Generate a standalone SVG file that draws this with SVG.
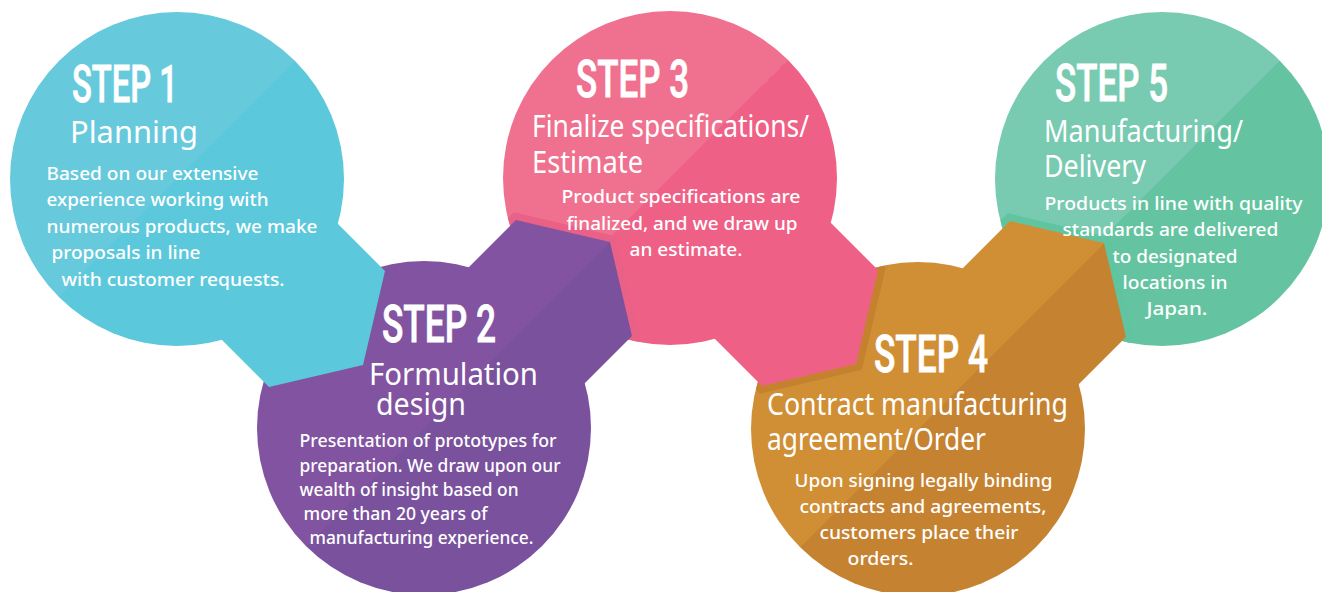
<svg xmlns="http://www.w3.org/2000/svg" width="1322" height="592" viewBox="0 0 1322 592">
  <style>
    .step { font-family: Roboto, "Liberation Sans", Arial, sans-serif; font-weight: 500; font-size: 51px; fill: #fff; stroke: #fff; stroke-width: 0.8; }
    .head { font-family: "Noto Sans", "Liberation Sans", sans-serif; font-size: 30px; fill: #fff; }
    .body { font-family: "Noto Sans", "Liberation Sans", sans-serif; font-weight: 500; font-size: 18.5px; fill: #fff; }
    .band { fill: none; stroke-width: 14; stroke-linejoin: miter; }
  </style>
  <defs>
    <!-- two-tone fills split along the 45° diagonal through each centre -->
    <linearGradient id="g1" gradientUnits="userSpaceOnUse" x1="77" y1="79" x2="277" y2="279">
      <stop offset="0.5" stop-color="#66C9DC"/><stop offset="0.5" stop-color="#5BC8DC"/>
    </linearGradient>
    <linearGradient id="g2" gradientUnits="userSpaceOnUse" x1="324" y1="328" x2="524" y2="528">
      <stop offset="0.5" stop-color="#8153A0"/><stop offset="0.5" stop-color="#79519D"/>
    </linearGradient>
    <linearGradient id="g3" gradientUnits="userSpaceOnUse" x1="570" y1="78" x2="770" y2="278">
      <stop offset="0.5" stop-color="#F0718F"/><stop offset="0.5" stop-color="#EF6086"/>
    </linearGradient>
    <linearGradient id="g4" gradientUnits="userSpaceOnUse" x1="818" y1="329" x2="1018" y2="529">
      <stop offset="0.5" stop-color="#D08E35"/><stop offset="0.5" stop-color="#C58231"/>
    </linearGradient>
    <linearGradient id="g5" gradientUnits="userSpaceOnUse" x1="1062" y1="79" x2="1262" y2="279">
      <stop offset="0.5" stop-color="#78CAB1"/><stop offset="0.5" stop-color="#64C4A1"/>
    </linearGradient>
    <clipPath id="clip3"><circle cx="670" cy="178" r="167"/></clipPath>
    <clipPath id="clip4"><circle cx="918" cy="429" r="167"/></clipPath>
    <clipPath id="clip5"><circle cx="1162" cy="179" r="167"/></clipPath>
  </defs>

  <!-- step circles -->
  <g id="step-5" class="node"><circle cx="1162" cy="179" r="167" fill="url(#g5)"/></g>
  <g id="step-4" class="node"><circle cx="918" cy="429" r="167" fill="url(#g4)"/></g>
  <g id="step-3" class="node"><circle cx="670" cy="178" r="167" fill="url(#g3)"/></g>
  <g id="step-2" class="node"><circle cx="424" cy="428" r="167" fill="url(#g2)"/></g>
  <g id="step-1" class="node"><circle cx="177" cy="179" r="167" fill="url(#g1)"/></g>

  <!-- pointer tabs leading from each step into the next -->
  <g id="connectors">
    <polyline class="band" clip-path="url(#clip5)" stroke="#5FC49F" points="1068,395 1126,337 1104,243 1010,221 952,279"/>
    <polygon fill="url(#g4)" points="918,429 1068,395 1126,337 1104,243 1010,221 952,279"/>
    <polyline class="band" clip-path="url(#clip4)" stroke="#C4822F" points="820,212 878,270 856,364 762,386 704,328"/>
    <polygon fill="url(#g3)" points="670,178 820,212 878,270 856,364 762,386 704,328"/>
    <polyline class="band" clip-path="url(#clip3)" stroke="#EA6187" points="574,394 632,336 610,242 516,220 458,278"/>
    <polygon fill="url(#g2)" points="424,428 574,394 632,336 610,242 516,220 458,278"/>
    <polygon fill="url(#g1)" points="177,179 327,213 385,271 363,365 269,387 211,329"/>
  </g>

  <!-- labels -->
  <g id="labels">
    <g id="step-1-label">
      <text class="step" x="72" y="102" textLength="106" lengthAdjust="spacingAndGlyphs">STEP 1</text>
      <text class="head" x="70" y="143" textLength="128" lengthAdjust="spacingAndGlyphs">Planning</text>
      <text class="body" x="46.5" y="180" textLength="212" lengthAdjust="spacingAndGlyphs">Based on our extensive</text>
      <text class="body" x="46.5" y="206" textLength="222" lengthAdjust="spacingAndGlyphs">experience working with</text>
      <text class="body" x="46.5" y="233" textLength="271" lengthAdjust="spacingAndGlyphs">numerous products, we make</text>
      <text class="body" x="51.5" y="259" textLength="149" lengthAdjust="spacingAndGlyphs">proposals in line</text>
      <text class="body" x="61.5" y="286" textLength="223" lengthAdjust="spacingAndGlyphs">with customer requests.</text>
    </g>
    <g id="step-2-label">
      <text class="step" x="382" y="342" textLength="114" lengthAdjust="spacingAndGlyphs">STEP 2</text>
      <text class="head" x="369" y="385" textLength="169" lengthAdjust="spacingAndGlyphs">Formulation</text>
      <text class="head" x="376" y="415" textLength="90" lengthAdjust="spacingAndGlyphs">design</text>
      <text class="body" x="299.5" y="447" textLength="257" lengthAdjust="spacingAndGlyphs">Presentation of prototypes for</text>
      <text class="body" x="299.5" y="472" textLength="261" lengthAdjust="spacingAndGlyphs">preparation. We draw upon our</text>
      <text class="body" x="299.5" y="496" textLength="219" lengthAdjust="spacingAndGlyphs">wealth of insight based on</text>
      <text class="body" x="303.5" y="520" textLength="184" lengthAdjust="spacingAndGlyphs">more than 20 years of</text>
      <text class="body" x="309.5" y="544" textLength="224" lengthAdjust="spacingAndGlyphs">manufacturing experience.</text>
    </g>
    <g id="step-3-label">
      <text class="step" x="576" y="97" textLength="113" lengthAdjust="spacingAndGlyphs">STEP 3</text>
      <text class="head" x="532" y="137" textLength="277" lengthAdjust="spacingAndGlyphs">Finalize specifications/</text>
      <text class="head" x="532" y="173" textLength="111" lengthAdjust="spacingAndGlyphs">Estimate</text>
      <text class="body" x="561.5" y="203" textLength="239" lengthAdjust="spacingAndGlyphs">Product specifications are</text>
      <text class="body" x="566.5" y="230" textLength="231" lengthAdjust="spacingAndGlyphs">finalized, and we draw up</text>
      <text class="body" x="629.5" y="256" textLength="113" lengthAdjust="spacingAndGlyphs">an estimate.</text>
    </g>
    <g id="step-4-label">
      <text class="step" x="874" y="372" textLength="114" lengthAdjust="spacingAndGlyphs">STEP 4</text>
      <text class="head" x="767" y="415" textLength="301" lengthAdjust="spacingAndGlyphs">Contract manufacturing</text>
      <text class="head" x="767" y="450" textLength="219" lengthAdjust="spacingAndGlyphs">agreement/Order</text>
      <text class="body" x="794.5" y="487" textLength="258" lengthAdjust="spacingAndGlyphs">Upon signing legally binding</text>
      <text class="body" x="799.5" y="513" textLength="247" lengthAdjust="spacingAndGlyphs">contracts and agreements,</text>
      <text class="body" x="819.5" y="539" textLength="199" lengthAdjust="spacingAndGlyphs">customers place their</text>
      <text class="body" x="847.5" y="565" textLength="66" lengthAdjust="spacingAndGlyphs">orders.</text>
    </g>
    <g id="step-5-label">
      <text class="step" x="1055" y="101" textLength="113" lengthAdjust="spacingAndGlyphs">STEP 5</text>
      <text class="head" x="1044" y="142" textLength="199" lengthAdjust="spacingAndGlyphs">Manufacturing/</text>
      <text class="head" x="1044" y="177" textLength="102" lengthAdjust="spacingAndGlyphs">Delivery</text>
      <text class="body" x="1044.5" y="210" textLength="258" lengthAdjust="spacingAndGlyphs">Products in line with quality</text>
      <text class="body" x="1062.5" y="236" textLength="216" lengthAdjust="spacingAndGlyphs">standards are delivered</text>
      <text class="body" x="1112.5" y="263" textLength="125" lengthAdjust="spacingAndGlyphs">to designated</text>
      <text class="body" x="1122.5" y="289" textLength="105" lengthAdjust="spacingAndGlyphs">locations in</text>
      <text class="body" x="1146.5" y="315" textLength="61" lengthAdjust="spacingAndGlyphs">Japan.</text>
    </g>
  </g>
</svg>
